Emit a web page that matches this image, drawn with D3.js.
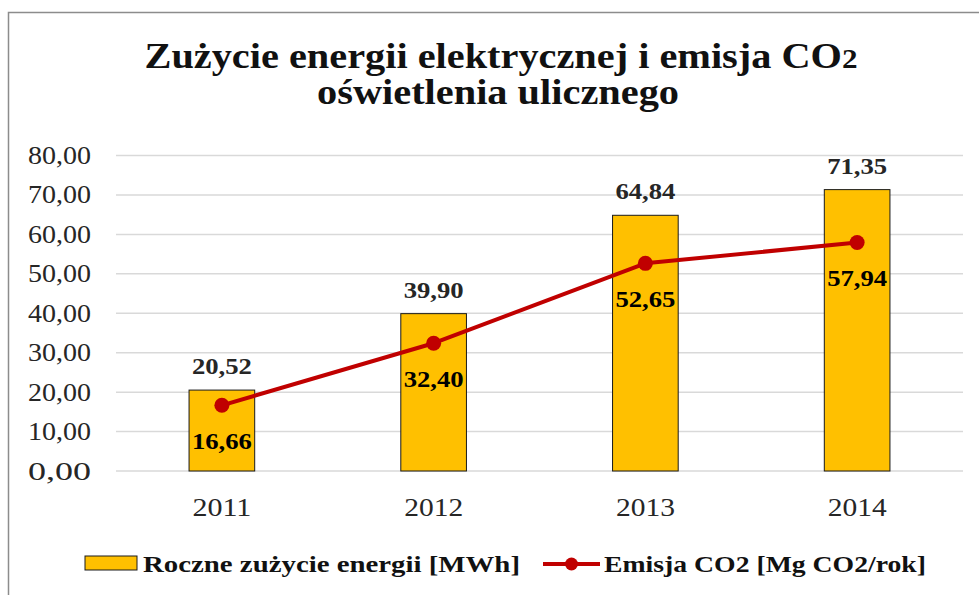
<!DOCTYPE html>
<html>
<head>
<meta charset="utf-8">
<script src="https://cdn.jsdelivr.net/npm/d3@7"></script>
<style>
  body { margin: 0; background: #fff; }
  svg { display: block; }
  svg text { font-family: "Liberation Serif", "DejaVu Serif", serif; }
</style>
</head>
<body>
<svg id="chart"></svg>
<script>
// data
const years = ['2011', '2012', '2013', '2014'];
const energy = [20.52, 39.90, 64.84, 71.35];   // Roczne zużycie energii [MWh]
const emission = [16.66, 32.40, 52.65, 57.94]; // Emisja CO2 [Mg CO2/rok]
const yTicks = [0, 10, 20, 30, 40, 50, 60, 70, 80];
const seriesNames = ['Roczne zużycie energii [MWh]', 'Emisja CO2 [Mg CO2/rok]'];

const width = 979, height = 595;
const fmt = d => d.toFixed(2).replace('.', ',');

const svg = d3.select('#chart')
  .attr('width', width)
  .attr('height', height);

// outer frame (cut off at right and bottom like the screenshot)
svg.append('rect')
  .attr('x', 8.5).attr('y', 12.5)
  .attr('width', 1000).attr('height', 1000)
  .attr('fill', 'none')
  .attr('stroke', '#8c8c8c')
  .attr('stroke-width', 1.5);

// title
const title = svg.append('text')
  .attr('text-anchor', 'middle')
  .attr('font-weight', 'bold')
  .attr('font-size', 35)
  .attr('fill', '#111');
const t1 = title.append('tspan').attr('x', 501).attr('y', 68)
  .attr('textLength', 713).attr('lengthAdjust', 'spacingAndGlyphs');
t1.append('tspan').text('Zużycie energii elektrycznej i emisja CO');
t1.append('tspan').attr('font-size', 27).text('2');
title.append('tspan').attr('x', 498).attr('y', 104)
  .attr('textLength', 362).attr('lengthAdjust', 'spacingAndGlyphs')
  .text('oświetlenia ulicznego');

// scales
const x = d3.scaleBand().domain(years).range([116, 963]).paddingInner(0.69).paddingOuter(0.345);
const y = d3.scaleLinear().domain([0, 80]).range([471, 155.5]);

// gridlines
svg.append('g')
  .selectAll('line')
  .data(yTicks)
  .join('line')
  .attr('x1', 116).attr('x2', 963)
  .attr('y1', d => y(d)).attr('y2', d => y(d))
  .attr('stroke', '#d9d9d9')
  .attr('stroke-width', 1.5);

// y axis
const yAxis = svg.append('g')
  .attr('transform', 'translate(116,0)')
  .call(d3.axisLeft(y).tickValues(yTicks).tickFormat(fmt).tickSize(0).tickPadding(25));
yAxis.select('.domain').remove();
yAxis.selectAll('text')
  .attr('font-size', 25)
  .attr('fill', '#262626')
  .attr('textLength', 63)
  .attr('lengthAdjust', 'spacingAndGlyphs');

// x axis
const xAxis = svg.append('g')
  .attr('transform', 'translate(0,471)')
  .call(d3.axisBottom(x).tickSize(0).tickPadding(27));
xAxis.select('.domain').remove();
xAxis.selectAll('text')
  .attr('font-size', 25)
  .attr('fill', '#262626')
  .attr('textLength', 59)
  .attr('lengthAdjust', 'spacingAndGlyphs');

// bars
svg.append('g')
  .selectAll('rect')
  .data(energy)
  .join('rect')
  .attr('x', (d, i) => x(years[i]))
  .attr('y', d => y(d))
  .attr('width', x.bandwidth())
  .attr('height', d => y(0) - y(d))
  .attr('fill', '#ffc000')
  .attr('stroke', '#1a1a1a')
  .attr('stroke-width', 1);

// bar labels
svg.append('g')
  .selectAll('text')
  .data(energy)
  .join('text')
  .attr('x', (d, i) => x(years[i]) + x.bandwidth() / 2)
  .attr('y', d => y(d) - 16)
  .attr('text-anchor', 'middle')
  .attr('font-size', 24)
  .attr('font-weight', 'bold')
  .attr('fill', '#262626')
  .attr('textLength', 60)
  .attr('lengthAdjust', 'spacingAndGlyphs')
  .text(fmt);

// line
const line = d3.line()
  .x((d, i) => x(years[i]) + x.bandwidth() / 2)
  .y(d => y(d));
svg.append('path')
  .datum(emission)
  .attr('d', line)
  .attr('fill', 'none')
  .attr('stroke', '#c00000')
  .attr('stroke-width', 4)
  .attr('stroke-linejoin', 'round');

svg.append('g')
  .selectAll('circle')
  .data(emission)
  .join('circle')
  .attr('cx', (d, i) => x(years[i]) + x.bandwidth() / 2)
  .attr('cy', d => y(d))
  .attr('r', 7.5)
  .attr('fill', '#c00000');

// line labels
svg.append('g')
  .selectAll('text')
  .data(emission)
  .join('text')
  .attr('x', (d, i) => x(years[i]) + x.bandwidth() / 2)
  .attr('y', d => y(d) + 44)
  .attr('text-anchor', 'middle')
  .attr('font-size', 24)
  .attr('font-weight', 'bold')
  .attr('fill', '#000')
  .attr('textLength', 60)
  .attr('lengthAdjust', 'spacingAndGlyphs')
  .text(fmt);

// legend
const legend = svg.append('g');
legend.append('rect')
  .attr('x', 85).attr('y', 556)
  .attr('width', 52).attr('height', 14)
  .attr('fill', '#ffc000')
  .attr('stroke', '#1a1a1a')
  .attr('stroke-width', 1);
legend.append('text')
  .attr('x', 143).attr('y', 572)
  .attr('font-size', 24)
  .attr('font-weight', 'bold')
  .attr('fill', '#111')
  .attr('textLength', 377)
  .attr('lengthAdjust', 'spacingAndGlyphs')
  .text(seriesNames[0]);
legend.append('line')
  .attr('x1', 543).attr('x2', 600)
  .attr('y1', 564).attr('y2', 564)
  .attr('stroke', '#c00000')
  .attr('stroke-width', 4);
legend.append('circle')
  .attr('cx', 571.5).attr('cy', 564).attr('r', 6.5)
  .attr('fill', '#c00000');
legend.append('text')
  .attr('x', 604).attr('y', 572)
  .attr('font-size', 24)
  .attr('font-weight', 'bold')
  .attr('fill', '#111')
  .attr('textLength', 322)
  .attr('lengthAdjust', 'spacingAndGlyphs')
  .text(seriesNames[1]);
</script>
</body>
</html>
